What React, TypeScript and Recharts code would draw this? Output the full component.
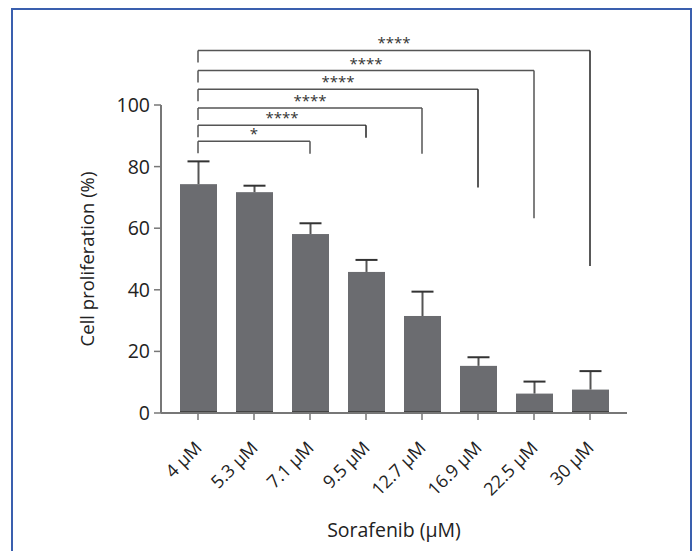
import { BarChart, Bar, XAxis, YAxis, ReferenceLine } from "recharts";

const categories = ["4 µM", "5.3 µM", "7.1 µM", "9.5 µM", "12.7 µM", "16.9 µM", "22.5 µM", "30 µM"];
const means = [74.3, 71.7, 58.1, 45.8, 31.5, 15.3, 6.3, 7.6];
const errors = [7.4, 2.1, 3.5, 3.9, 7.9, 2.8, 3.9, 6.0];
const yTicks = [0, 20, 40, 60, 80, 100];

// significance brackets, all against the 4 µM group
const compareTo = [2, 3, 4, 5, 6, 7];
const compareStars = ["*", "****", "****", "****", "****", "****"];
const bracketTop = [88.2, 93.4, 99.0, 105.1, 111.2, 117.7];
const bracketLeftEnd = [84.3, 89.5, 95.1, 101.2, 107.3, 113.8];
const bracketRightEnd = [84.2, 89.4, 84.2, 73.2, 63.2, 47.7];

const data = categories.map((name, i) => ({ name, mean: means[i], err: errors[i] }));

const FONT = "'Open Sans', 'DejaVu Sans', sans-serif";
const BAR = "#6b6c70";
const LINE = "#555";

function BarWithError(props: any) {
  const { x, y, width, height, value, payload } = props;
  const pxPerUnit = value ? height / value : 0;
  const errPx = payload.err * pxPerUnit;
  const cx = x + width / 2;
  return (
    <g>
      <rect x={x} y={y} width={width} height={height} fill={BAR} />
      <line x1={x} x2={x + width} y1={y + height - 1} y2={y + height - 1} stroke="#444" strokeWidth={2} />
      <line x1={cx} x2={cx} y1={y} y2={y - errPx} stroke={LINE} strokeWidth={2} />
      <line x1={cx - 11} x2={cx + 11} y1={y - errPx} y2={y - errPx} stroke="#333" strokeWidth={2} />
    </g>
  );
}

function AngledTick({ x, y, payload }: any) {
  return (
    <g transform={`translate(${x + 5},${y + 27})`}>
      <text textAnchor="end" transform="rotate(-45)" fontSize={18} fill="#222" fontFamily={FONT}>
        {payload.value}
      </text>
    </g>
  );
}

export default function App() {
  return (
    <div style={{ position: "relative", width: 693, height: 551, overflow: "hidden", background: "#fff" }}>
      <style>{"body{margin:0}"}</style>
      <div
        style={{
          position: "absolute",
          left: 11,
          top: 8,
          width: 681,
          height: 600,
          boxSizing: "border-box",
          border: "2px solid #3a5fae",
        }}
      />
      <div style={{ position: "absolute", left: 0, top: 0 }}>
        <BarChart width={693} height={551} data={data} margin={{ top: 105, right: 66, bottom: 12, left: 101 }}>
          <XAxis
            dataKey="name"
            height={126}
            padding={{ left: 9, right: 9 }}
            tick={<AngledTick />}
            tickSize={7}
            tickMargin={2}
            interval={0}
            axisLine={{ stroke: "#777", strokeWidth: 2 }}
            tickLine={{ stroke: "#777", strokeWidth: 1.5 }}
            label={{
              value: "Sorafenib (µM)",
              position: "insideBottom",
              offset: 2,
              fontSize: 19.5,
              fill: "#222",
              fontFamily: FONT,
            }}
          />
          <YAxis
            width={60}
            domain={[0, 100]}
            ticks={yTicks}
            tickSize={7}
            tickMargin={4}
            axisLine={{ stroke: "#777", strokeWidth: 2 }}
            tickLine={{ stroke: "#777", strokeWidth: 1.5 }}
            tick={{ fontSize: 19.5, fill: "#222", fontFamily: FONT }}
            label={{
              value: "Cell proliferation (%)",
              angle: -90,
              position: "insideLeft",
              offset: -14,
              fontSize: 18.5,
              fill: "#222",
              fontFamily: FONT,
              style: { textAnchor: "middle" },
            }}
          />
          <Bar dataKey="mean" barSize={37} shape={<BarWithError />} isAnimationActive={false} />
          {compareTo.map((t, i) => (
            <ReferenceLine
              key={`h${i}`}
              ifOverflow="visible"
              segment={[
                { x: categories[0], y: bracketTop[i] },
                { x: categories[t], y: bracketTop[i] },
              ]}
              stroke={LINE}
              strokeWidth={1.5}
              label={{ value: compareStars[i], position: "top", offset: 2, fontSize: 15, fill: "#333", fontFamily: FONT }}
            />
          ))}
          {compareTo.map((t, i) => (
            <ReferenceLine
              key={`l${i}`}
              ifOverflow="visible"
              segment={[
                { x: categories[0], y: bracketTop[i] },
                { x: categories[0], y: bracketLeftEnd[i] },
              ]}
              stroke={LINE}
              strokeWidth={1.5}
            />
          ))}
          {compareTo.map((t, i) => (
            <ReferenceLine
              key={`r${i}`}
              ifOverflow="visible"
              segment={[
                { x: categories[t], y: bracketTop[i] },
                { x: categories[t], y: bracketRightEnd[i] },
              ]}
              stroke={i % 2 ? "#222" : LINE}
              strokeWidth={1.5}
            />
          ))}
        </BarChart>
      </div>
    </div>
  );
}
